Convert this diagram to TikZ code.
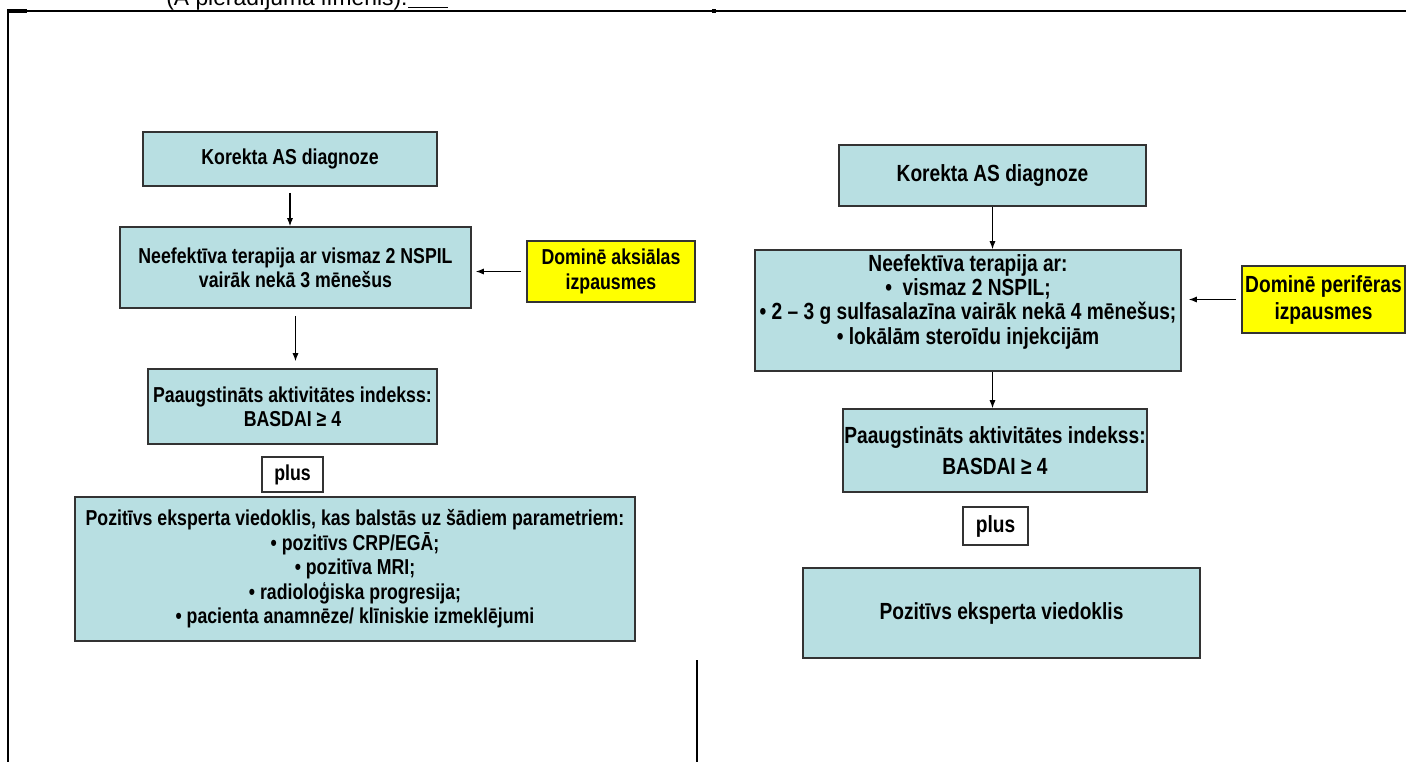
\documentclass[tikz,border=0pt]{standalone}
\usepackage{fontspec}
\setmainfont{Liberation Sans}[FakeStretch=0.82]
\newfontfamily\wideface{Liberation Sans}
\usetikzlibrary{arrows.meta}
\definecolor{boxfill}{HTML}{B8DFE2}
\definecolor{notefill}{HTML}{FFFF00}
\tikzset{
  lfont/.style={font=\bfseries\fontsize{12.3}{13.9}\selectfont},
  rfont/.style={font=\bfseries\fontsize{13.3}{13.9}\selectfont},
  box/.style={draw=black!80, line width=0.9pt, fill=boxfill, align=center, inner sep=0pt},
  lbox/.style={box, lfont},
  rbox/.style={box, rfont},
  note/.style={box, fill=notefill},
  plusbox/.style={draw=black!80, line width=0.8pt, fill=white, inner sep=0pt},
  arrow/.style={-{Latex[length=1.6mm,width=1.2mm]}, line width=0.6pt}
}
\begin{document}
\begin{tikzpicture}[x=0.02cm, y=-0.02cm]
\useasboundingbox (0,0) rectangle (1406,762);
\draw[line width=1.1pt] (8,11) -- (8,762);
\draw[line width=0.8pt] (8,11) -- (1406,11);
\draw[line width=1.8pt] (7,11) -- (27,11);
\draw[line width=1.8pt] (712,11) -- (716,11);
\draw[line width=1pt] (697,660) -- (697,762);
\node[anchor=base west, font=\wideface\fontsize{13}{15}\selectfont, inner sep=0pt] (level) at (166,5) {(A pierādījuma līmenis).};
\draw[line width=0.9pt] ([yshift=-1.5pt]level.base east) -- ++(40,0);

\node[lbox, minimum width=5.88cm, minimum height=1.08cm] (diag) at (290,159) {Korekta AS diagnoze};
\node[lbox, minimum width=7.02cm, minimum height=1.62cm] (ther) at (295.5,267.5)
  {Neefektīva terapija ar vismaz 2 NSPIL\\vairāk nekā 3 mēnešus};
\node[note, lfont, minimum width=3.36cm, minimum height=1.22cm] (axial) at (611,271.5)
  {Dominē aksiālas\\izpausmes};
\node[lbox, minimum width=5.78cm, minimum height=1.5cm] (basdai) at (292.5,406.5)
  {Paaugstināts aktivitātes indekss:\\BASDAI ≥ 4};
\node[plusbox, lfont, minimum width=1.22cm, minimum height=0.7cm] (plus) at (292.5,474.5) {plus};
\node[lbox, minimum width=11.2cm, minimum height=2.88cm] (expert) at (355,569)
  {Pozitīvs eksperta viedoklis, kas balstās uz šādiem parametriem:\\
   • pozitīvs CRP/EGĀ;\\
   • pozitīva MRI;\\
   • radioloģiska progresija;\\
   • pacienta anamnēze/ klīniskie izmeklējumi};

\node[rbox, minimum width=6.14cm, minimum height=1.22cm] (rdiag) at (992.5,175.5) {Korekta AS diagnoze};
\node[rbox, minimum width=8.52cm, minimum height=2.42cm, text depth=0.45cm] (rther) at (968,310.5)
  {Neefektīva terapija ar:\\
   •\ \ vismaz 2 NSPIL;\\
   • 2 – 3 g sulfasalazīna vairāk nekā 4 mēnešus;\\
   • lokālām steroīdu injekcijām};
\node[note, font=\bfseries\fontsize{13.3}{15.4}\selectfont, minimum width=3.26cm, minimum height=1.34cm] (periph) at (1323.5,299.5)
  {Dominē perifēras\\izpausmes};
\node[rbox, font=\bfseries\fontsize{13.3}{17.6}\selectfont, minimum width=6.08cm, minimum height=1.66cm] (rbasdai) at (995,450.5)
  {Paaugstināts aktivitātes indekss:\\BASDAI ≥ 4};
\node[plusbox, rfont, minimum width=1.3cm, minimum height=0.76cm] (rplus) at (995.5,526) {plus};
\node[rbox, minimum width=7.94cm, minimum height=1.8cm] (rexpert) at (1001.5,613) {Pozitīvs eksperta viedoklis};

\draw[arrow, shorten <=0.12cm] (diag.south) -- (diag.south |- ther.north);
\draw[arrow, shorten <=0.14cm, shorten >=0.14cm] (ther.south) -- (ther.south |- basdai.north);
\draw[arrow, shorten <=0.1cm, shorten >=0.08cm] (axial.west) -- (axial.west -| ther.east);
\draw[arrow] (rdiag.south) -- (rdiag.south |- rther.north);
\draw[arrow] (rther.south -| rdiag.south) -- (rbasdai.north -| rdiag.south);
\draw[arrow, shorten <=0.1cm, shorten >=0.14cm] (periph.west) -- (periph.west -| rther.east);
\end{tikzpicture}
\end{document}
